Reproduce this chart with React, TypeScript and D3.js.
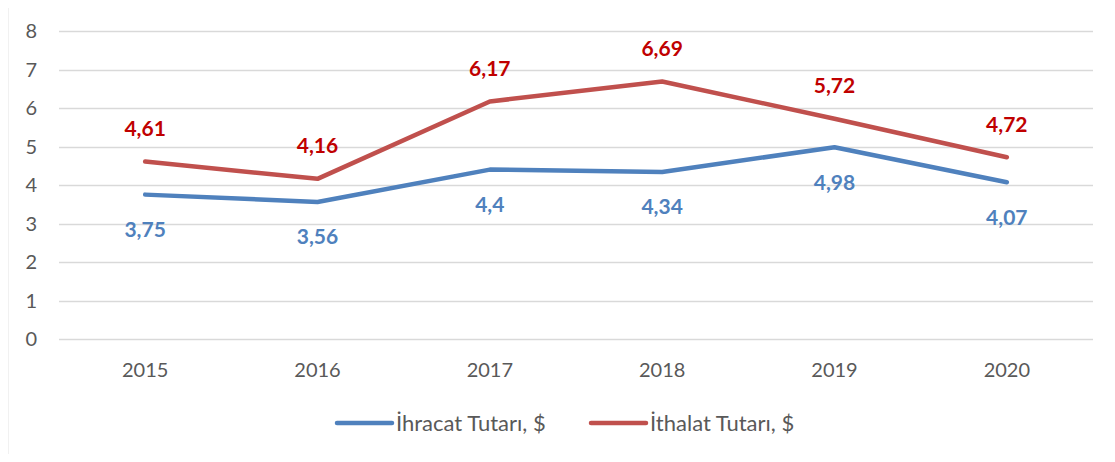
import React, { useRef, useEffect } from "react";
import * as d3 from "d3";

const years = ["2015", "2016", "2017", "2018", "2019", "2020"];
const ihracat = [3.75, 3.56, 4.4, 4.34, 4.98, 4.07];
const ithalat = [4.61, 4.16, 6.17, 6.69, 5.72, 4.72];
const seriesNames = ["İhracat Tutarı, $", "İthalat Tutarı, $"];
const yTicks = [0, 1, 2, 3, 4, 5, 6, 7, 8];

const W = 1115;
const H = 462;
const PLOT = { LEFT: 59, RIGHT: 1093, TOP: 31, BOTTOM: 339 };
const FONT = "Lato, 'Open Sans', sans-serif";

const drawChart = (element: HTMLDivElement) => {
  d3.select(element).selectAll("*").remove();

  const svg = d3
    .select(element)
    .append("svg")
    .attr("width", W)
    .attr("height", H)
    .style("display", "block");

  svg.append("rect")
    .attr("x", 7.5)
    .attr("y", 1.5)
    .attr("width", W - 8)
    .attr("height", H - 2)
    .attr("fill", "white")
    .attr("stroke", "#c8c8c8")
    .attr("stroke-width", 1.5);

  const x = d3.scaleBand().domain(years).range([PLOT.LEFT, PLOT.RIGHT]);
  const y = d3.scaleLinear().domain([0, 8]).range([PLOT.BOTTOM, PLOT.TOP]);
  const cx = (d: string) => (x(d) as number) + x.bandwidth() / 2;

  // gridlines
  svg.append("g")
    .selectAll("line")
    .data(yTicks)
    .enter()
    .append("line")
    .attr("x1", PLOT.LEFT)
    .attr("x2", PLOT.RIGHT)
    .attr("y1", d => Math.round(y(d)) + 0.5)
    .attr("y2", d => Math.round(y(d)) + 0.5)
    .attr("stroke", "#d9d9d9")
    .attr("stroke-width", 1.5);

  // y labels
  svg.append("g")
    .selectAll("text")
    .data(yTicks)
    .enter()
    .append("text")
    .attr("x", 37)
    .attr("y", d => y(d))
    .attr("dy", "0.35em")
    .attr("text-anchor", "end")
    .attr("font-family", FONT)
    .attr("font-size", 20)
    .attr("fill", "#595959")
    .text(d => d);

  // x labels
  svg.append("g")
    .selectAll("text")
    .data(years)
    .enter()
    .append("text")
    .attr("x", d => cx(d))
    .attr("y", 370)
    .attr("dy", "0.35em")
    .attr("text-anchor", "middle")
    .attr("font-family", FONT)
    .attr("font-size", 20)
    .attr("fill", "#595959")
    .text(d => d);

  const series = [
    { values: ihracat, line: "#4f81bd", label: "#4f81bd", offset: 35 },
    { values: ithalat, line: "#c0504d", label: "#c00000", offset: -33 },
  ];

  const line = d3
    .line<number>()
    .x((_, i) => cx(years[i]))
    .y(d => y(d));

  series.forEach(s => {
    svg.append("path")
      .datum(s.values)
      .attr("d", line)
      .attr("fill", "none")
      .attr("stroke", s.line)
      .attr("stroke-width", 4.5)
      .attr("stroke-linecap", "round")
      .attr("stroke-linejoin", "round");

    svg.append("g")
      .selectAll("text")
      .data(s.values)
      .enter()
      .append("text")
      .attr("x", (_, i) => cx(years[i]))
      .attr("y", d => y(d) + s.offset)
      .attr("dy", "0.35em")
      .attr("text-anchor", "middle")
      .attr("font-family", FONT)
      .attr("font-size", 21)
      .attr("font-weight", "bold")
      .attr("fill", s.label)
      .text(d => String(d).replace(".", ","));
  });

  // legend
  const legendX = [337, 591];
  series.forEach((s, i) => {
    const g = svg.append("g").attr("transform", `translate(${legendX[i]}, 423)`);
    g.append("line")
      .attr("x1", 0)
      .attr("x2", 55)
      .attr("stroke", s.line)
      .attr("stroke-width", 4.5)
      .attr("stroke-linecap", "round");
    g.append("text")
      .attr("x", 59)
      .attr("dy", "0.35em")
      .attr("font-family", FONT)
      .attr("font-size", 22)
      .attr("fill", "#595959")
      .text(seriesNames[i]);
  });
};

const App = () => {
  const chartRef = useRef<HTMLDivElement>(null);

  useEffect(() => {
    if (chartRef.current) drawChart(chartRef.current);
  }, []);

  return <div ref={chartRef} style={{ margin: -8 }}></div>;
};

export default App;
